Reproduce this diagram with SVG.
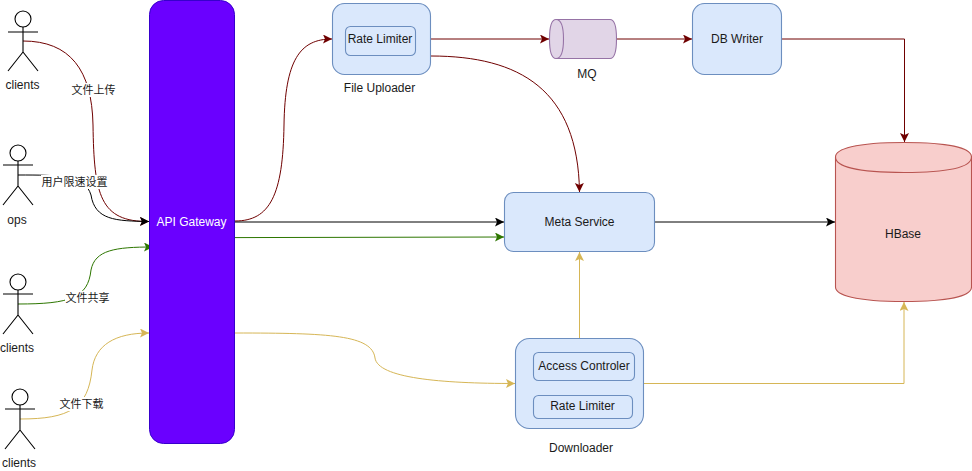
<svg xmlns="http://www.w3.org/2000/svg" width="972" height="471" viewBox="0 0 972 471">
<style>
text{font-family:"Helvetica Neue","Liberation Sans","Noto Sans CJK SC",sans-serif;font-size:12px;fill:#1a1a1a;text-anchor:middle}
.cjk{font-size:11px}
.actor{fill:none;stroke:#000;stroke-width:1.1}
.actor circle{fill:#fff}
.blue{fill:#dae8fc;stroke:#6c8ebf;stroke-width:1.1}
.c{fill:none;stroke-width:1}
.r{stroke:#6f0000}.k{stroke:#000}.g{stroke:#2d7600}.y{stroke:#d6b656}
.lb{fill:#fff;stroke:none}
</style>
<defs>
<marker id="mr" markerUnits="userSpaceOnUse" markerWidth="10" markerHeight="10" refX="9" refY="4.5" orient="auto"><path d="M0 0L9 4.5L0 9L2 4.5Z" fill="#6f0000"/></marker>
<marker id="mk" markerUnits="userSpaceOnUse" markerWidth="10" markerHeight="10" refX="9" refY="4.5" orient="auto"><path d="M0 0L9 4.5L0 9L2 4.5Z" fill="#000"/></marker>
<marker id="mg" markerUnits="userSpaceOnUse" markerWidth="10" markerHeight="10" refX="9" refY="4.5" orient="auto"><path d="M0 0L9 4.5L0 9L2 4.5Z" fill="#2d7600"/></marker>
<marker id="my" markerUnits="userSpaceOnUse" markerWidth="10" markerHeight="10" refX="9" refY="4.5" orient="auto"><path d="M0 0L9 4.5L0 9L2 4.5Z" fill="#d6b656"/></marker>
</defs>
<g id="connectors">
<path class="c r" marker-end="url(#mr)" d="M23 41C70 41 92 70 93 125C94 195 100 222 149 221.500"/>
<path class="c k" marker-end="url(#mk)" d="M18 175C60 175 85 175 91 195C95 220 115 221 149 221.500"/>
<path class="c g" marker-end="url(#mg)" d="M18 304C70 304 88 298 91 270C95 250 115 247 153 247"/>
<path class="c y" marker-end="url(#my)" d="M20 419C70 419 88 408 92 370C95 345 115 333 149 333"/>
<path class="c r" marker-end="url(#mr)" d="M235 221C270 221 283 195 284 125C285 60 300 39 332 39"/>
<path class="c k" marker-end="url(#mk)" d="M235 222H504"/>
<path class="c g" marker-end="url(#mg)" d="M235 237.600L504 237"/>
<path class="c y" marker-end="url(#my)" d="M235 333C330 333 372 335 375 358C378 378 440 383.500 515 383.500"/>
<path class="c r" marker-end="url(#mr)" d="M431 39H549"/>
<path class="c r" marker-end="url(#mr)" d="M431 56C520 56 578 90 579.500 192"/>
<path class="c r" marker-end="url(#mr)" d="M617 39H692"/>
<path class="c r" marker-end="url(#mr)" d="M782 39H904.500V142"/>
<path class="c k" marker-end="url(#mk)" d="M655 222H835"/>
<path class="c y" marker-end="url(#my)" d="M579.500 338V252"/>
<path class="c y" marker-end="url(#my)" d="M644 383.500H904V302"/>
</g>
<g id="client1" class="actor"><circle cx="23" cy="19" r="8"/><path d="M23 27V52M8 32H38M23 52L8 71M23 52L38 71"/></g>
<text x="22.500" y="89">clients</text>
<g id="ops" class="actor"><circle cx="18" cy="153" r="8"/><path d="M18 161V186M3 165H33M18 186L3 205M18 186L33 205"/></g>
<text x="17" y="224">ops</text>
<g id="client2" class="actor"><circle cx="18" cy="282" r="8"/><path d="M18 290V315M3 294H33M18 315L3 334M18 315L33 334"/></g>
<text x="17" y="352">clients</text>
<g id="client3" class="actor"><circle cx="20" cy="397" r="8"/><path d="M20 405V430M5 409H35M20 430L5 449M20 430L35 449"/></g>
<text x="19" y="467">clients</text>
<g id="edge-labels">
<rect class="lb" x="71" y="83" width="45" height="14"/><text class="cjk" x="93.500" y="94">文件上传</text>
<rect class="lb" x="41" y="175" width="67" height="14"/><text class="cjk" x="74.500" y="186">用户限速设置</text>
<rect class="lb" x="65" y="291" width="45" height="14"/><text class="cjk" x="87.500" y="302">文件共享</text>
<rect class="lb" x="59" y="397" width="45" height="14"/><text class="cjk" x="81.500" y="408">文件下载</text>
</g>
<g id="gateway"><rect x="149.500" y="0.500" width="85" height="443" rx="14" fill="#6a00ff" stroke="#3700cc"/><text x="191.500" y="226" style="fill:#fff">API Gateway</text></g>
<g id="uploader"><rect class="blue" x="332.500" y="3.500" width="98" height="71" rx="12"/><rect class="blue" x="345.500" y="26.500" width="70" height="29" rx="5"/><text x="380" y="43">Rate Limiter</text><text x="379.500" y="92">File Uploader</text></g>
<g id="mq"><path d="M556 19.500H610Q616.500 19.500 616.500 39T610 58.500H556Q549.500 58.500 549.500 39T556 19.500Z" fill="#e1d5e7" stroke="#9673a6" stroke-width="1.100"/><path d="M556 19.500Q563.500 19.500 563.500 39T556 58.500" fill="none" stroke="#9673a6" stroke-width="1.100"/><text x="587" y="78">MQ</text></g>
<g id="writer"><rect class="blue" x="692.500" y="3.500" width="89" height="71" rx="12"/><text x="737" y="43">DB Writer</text></g>
<g id="meta"><rect class="blue" x="504.500" y="192.500" width="150" height="59" rx="9"/><text x="579.500" y="226">Meta Service</text></g>
<g id="hbase"><path d="M835.500 157C835.500 149 855 142.500 904 142.500S971.500 149 971.500 157V287C971.500 295 953 301.500 904 301.500S835.500 295 835.500 287Z" fill="#f8cecc" stroke="#b85450" stroke-width="1.100"/><path d="M835.500 157C835.500 166 855 172.500 904 172.500S971.500 166 971.500 157" fill="none" stroke="#b85450" stroke-width="1.100"/><text x="903" y="238">HBase</text></g>
<g id="downloader"><rect class="blue" x="515.500" y="338.500" width="128" height="90" rx="14"/><rect class="blue" x="533.500" y="352.500" width="101" height="28" rx="5"/><text x="584" y="370">Access Controler</text><rect class="blue" x="533.500" y="395.500" width="99" height="23" rx="5"/><text x="582.500" y="410">Rate Limiter</text><text x="581" y="452">Downloader</text></g>
</svg>
